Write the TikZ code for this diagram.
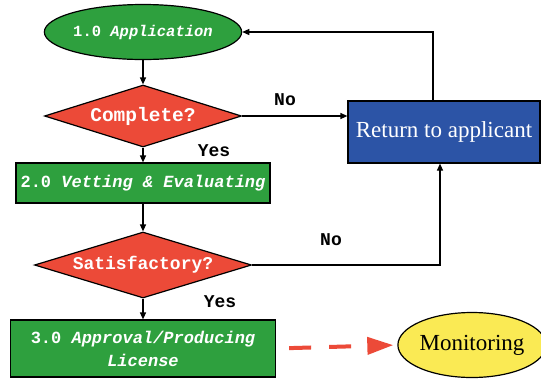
\documentclass[tikz,border=0pt]{standalone}
\usepackage{fontspec}
\setmainfont{Liberation Serif}
\setmonofont{Liberation Mono}
\usetikzlibrary{shapes.geometric,arrows.meta}
\definecolor{flowgreen}{RGB}{46,160,62}
\definecolor{flowred}{RGB}{236,74,56}
\definecolor{flowblue}{RGB}{44,84,166}
\definecolor{flowyellow}{RGB}{250,234,84}
\tikzset{
  base/.style={draw=black, line width=1.2pt, inner sep=0pt},
  greenbox/.style={base, rectangle, fill=flowgreen, text=white, font=\ttfamily\bfseries\fontsize{17}{20}\selectfont},
  greenoval/.style={base, ellipse, fill=flowgreen, text=white, font=\ttfamily\bfseries\fontsize{15.5}{18}\selectfont},
  decision/.style={base, diamond, shape aspect=3.2, fill=flowred, text=white, font=\ttfamily\bfseries\fontsize{19.5}{22}\selectfont},
  bluebox/.style={base, rectangle, fill=flowblue, text=white, font=\fontsize{23}{27}\selectfont},
  yellowoval/.style={base, ellipse, fill=flowyellow, text=black, font=\fontsize{23}{27}\selectfont},
  flow/.style={line width=1.2pt, -{Triangle[length=7pt,width=6pt]}},
  answer/.style={font=\ttfamily\bfseries\fontsize{18}{21}\selectfont, inner sep=0pt}
}
\begin{document}
\begin{tikzpicture}[x=1pt,y=-1pt]
\useasboundingbox (0,0) rectangle (541,381);

% process shapes
\node[greenoval, minimum width=175pt, minimum height=55pt] (app) at (143,32) {1.0 \textit{Application}};
\node[decision, minimum width=197pt, minimum height=62pt] (comp) at (143,116) {Complete?};
\node[greenbox, minimum width=254pt, minimum height=40pt] (vet) at (143,183) {2.0 \textit{Vetting \& Evaluating}};
\node[decision, minimum width=217pt, minimum height=66pt, font=\ttfamily\bfseries\fontsize{18}{21}\selectfont] (sat) at (143,265) {Satisfactory?};
\node[greenbox, minimum width=265pt, minimum height=57pt, align=center, font=\ttfamily\bfseries\fontsize{17}{23}\selectfont] (lic) at (143,348.5) {3.0 \textit{Approval/Producing}\\\textit{License}};
\node[bluebox, minimum width=192pt, minimum height=62pt] (ret) at (444,132) {Return to applicant};
\node[yellowoval, minimum width=134pt, minimum height=65pt] (mon) at (472,345) {Monitoring};

% turning points of the return paths
\coordinate (up) at (433,32);
\coordinate (back) at (440,265);

% main flow
\draw[flow] (app.south) -- (comp.north);
\draw[flow] (comp.south) -- (vet.north);
\draw[flow] (vet.south) -- (sat.north);
\draw[flow] (sat.south) -- (lic.north);

% rejections
\draw[flow] (comp.east) -- (ret.west |- comp.east);
\draw[flow] (sat.east) -- (sat.east -| back) -- (ret.south -| back);
\draw[flow] (ret.north -| up) |- (app.east);

% follow-up
\draw[flowred, line width=4pt, dash pattern=on 22pt off 18pt, shorten <=13pt, shorten >=4pt,
  -{Triangle[length=26pt,width=17pt]}] (lic.east) -- (mon.west);

% answers
\node[answer] (no1) at (285,100) {No};
\node[answer] (yes1) at (214,151) {Yes};
\node[answer] (no2) at (331,240) {No};
\node[answer] (yes2) at (220,302) {Yes};
\end{tikzpicture}
\end{document}
